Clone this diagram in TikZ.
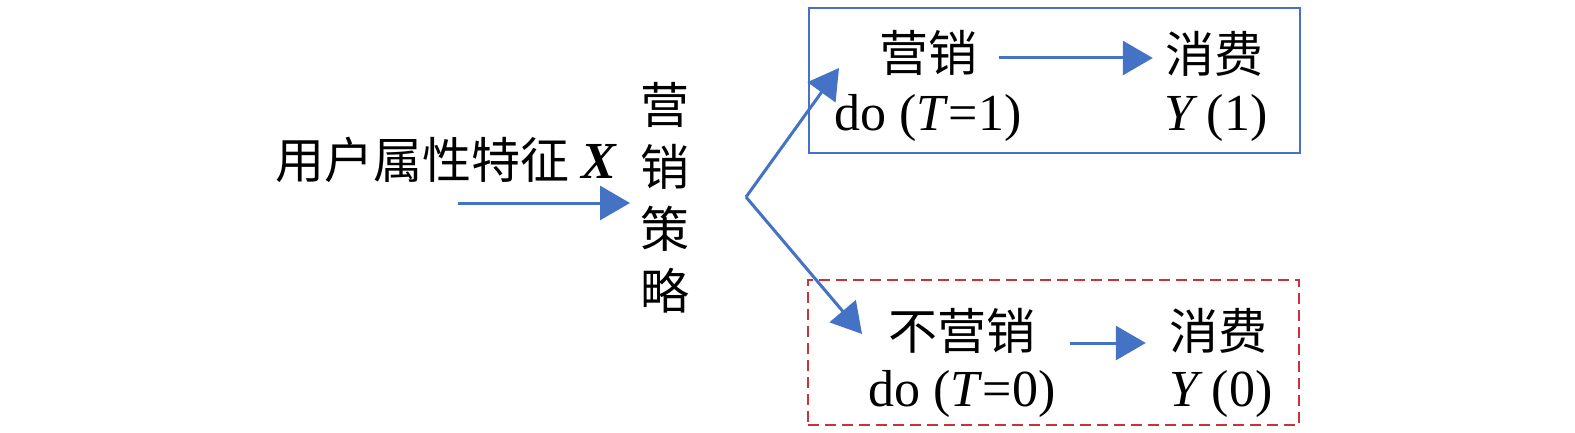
\documentclass[tikz,border=0pt]{standalone}
\usepackage{fontspec}
\setmainfont{Liberation Serif}
\newfontfamily\cjk{Noto Sans CJK SC}
\usetikzlibrary{arrows.meta}
\definecolor{bl}{HTML}{4472C4}
\definecolor{rd}{HTML}{C8323A}
\begin{document}
\begin{tikzpicture}[x=1pt,y=-1pt,
 txt/.style={inner sep=0pt, font=\fontsize{49}{62}\selectfont},
 lat/.style={inner sep=0pt, font=\fontsize{52}{62}\selectfont},
 arr/.style={draw=bl, line width=3pt, -{Triangle[length=30pt,width=34pt]}},
 box/.style={rectangle, inner sep=0pt, minimum width=491pt, minimum height=145pt},
]
\useasboundingbox (0,0) rectangle (1575,433);
% left label and strategy
\node[txt] (feat) at (446,160) {{\cjk 用户属性特征}\hspace{0.25em}{\fontsize{52}{62}\selectfont\textbf{\textit{X}}}};
\node[txt, align=center] (strat) at (665,198) {\cjk 营\\\cjk 销\\\cjk 策\\\cjk 略};
\coordinate (a0) at (458,203);
\coordinate (a1) at (630,203);
\draw[arr] (a0) -- (a1);
% boxes
\node[box, draw=bl, line width=2pt] (boxT) at (1054.5,80.5) {};
\node[box, draw=rd, line width=2pt, dash pattern=on 11pt off 6pt] (boxC) at (1053,352.5) {};
% top box contents
\node[txt] (m1) at (928,53) {\cjk 营销};
\node[lat] (d1) at (928,118) {do (\textit{T}=1)};
\node[txt] (c1) at (1214,54) {\cjk 消费};
\node[lat] (y1) at (1216,118) {\textit{Y}\,(1)};
% bottom box contents
\node[txt] (m0) at (962,331) {\cjk 不营销};
\node[lat] (d0) at (962,394) {do (\textit{T}=0)};
\node[txt] (c0) at (1218,331) {\cjk 消费};
\node[lat] (y0) at (1221,394) {\textit{Y}\,(0)};
\draw[arr] ([xshift=22pt,yshift=-5pt]m1.east) -- ([xshift=-12pt,yshift=-4pt]c1.west);
\draw[arr] ([xshift=34pt,yshift=-12pt]m0.east) -- ([xshift=-23pt,yshift=-12pt]c0.west);
% branching arrows
\coordinate (v) at (746,197);
\coordinate (t1) at (839,68);
\coordinate (t0) at (862,334);
\draw[arr] (v) -- (t1);
\draw[arr] (v) -- (t0);
\end{tikzpicture}
\end{document}
